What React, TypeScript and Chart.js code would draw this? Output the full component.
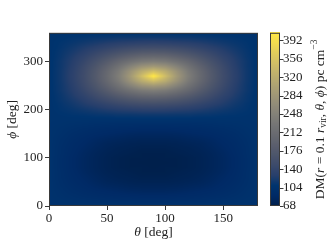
import { useEffect, useRef } from 'react';
import { Chart, registerables } from 'chart.js';
Chart.register(...registerables);

// theta grid (deg), columns
const thetaDeg = [0, 10, 20, 30, 40, 50, 60, 70, 80, 90, 100, 110, 120, 130, 140, 150, 160, 170, 180];
// phi grid (deg), rows
const phiDeg = [0, 10, 20, 30, 40, 50, 60, 70, 80, 90, 100, 110, 120, 130, 140, 150, 160, 170, 180,
  190, 200, 210, 220, 230, 240, 250, 260, 270, 280, 290, 300, 310, 320, 330, 340, 350, 360];

// DM values [pc cm^-3], one row per phi, one value per theta
const dmRows = [
  [105, 105, 105, 105, 105, 105, 105, 105, 105, 105, 105, 105, 105, 105, 105, 105, 105, 105, 105],
  [105, 104, 102, 101, 99, 98, 97, 97, 96, 96, 96, 97, 97, 98, 99, 101, 102, 104, 105],
  [105, 102, 99, 96, 94, 92, 91, 90, 89, 89, 89, 90, 91, 92, 94, 96, 99, 102, 105],
  [105, 101, 96, 93, 90, 88, 86, 84, 83, 83, 83, 84, 86, 88, 90, 93, 96, 101, 105],
  [105, 99, 94, 90, 86, 83, 81, 79, 78, 78, 78, 79, 81, 83, 86, 90, 94, 99, 105],
  [105, 98, 92, 88, 83, 79, 77, 75, 74, 74, 74, 75, 77, 79, 83, 88, 92, 98, 105],
  [105, 97, 91, 86, 81, 77, 74, 73, 71, 71, 71, 73, 74, 77, 81, 86, 91, 97, 105],
  [105, 97, 90, 84, 79, 75, 73, 71, 69, 69, 69, 71, 73, 75, 79, 84, 90, 97, 105],
  [105, 96, 89, 83, 78, 74, 71, 69, 69, 68, 69, 69, 71, 74, 78, 83, 89, 96, 105],
  [105, 96, 89, 83, 78, 74, 71, 69, 68, 68, 68, 69, 71, 74, 78, 83, 89, 96, 105],
  [105, 96, 89, 83, 78, 74, 71, 69, 69, 68, 69, 69, 71, 74, 78, 83, 89, 96, 105],
  [105, 97, 90, 84, 79, 75, 73, 71, 69, 69, 69, 71, 73, 75, 79, 84, 90, 97, 105],
  [105, 97, 91, 86, 81, 77, 74, 73, 71, 71, 71, 73, 74, 77, 81, 86, 91, 97, 105],
  [105, 98, 92, 88, 83, 79, 77, 75, 74, 74, 74, 75, 77, 79, 83, 88, 92, 98, 105],
  [105, 99, 94, 90, 86, 83, 81, 79, 78, 78, 78, 79, 81, 83, 86, 90, 94, 99, 105],
  [105, 101, 96, 93, 90, 88, 86, 84, 83, 83, 83, 84, 86, 88, 90, 93, 96, 101, 105],
  [105, 102, 99, 96, 94, 92, 91, 90, 89, 89, 89, 90, 91, 92, 94, 96, 99, 102, 105],
  [105, 104, 102, 101, 99, 98, 97, 97, 96, 96, 96, 97, 97, 98, 99, 101, 102, 104, 105],
  [105, 105, 105, 105, 105, 105, 105, 105, 105, 105, 105, 105, 105, 105, 105, 105, 105, 105, 105],
  [105, 107, 109, 110, 112, 113, 115, 115, 116, 116, 116, 115, 115, 113, 112, 110, 109, 107, 105],
  [105, 109, 112, 116, 120, 124, 127, 129, 131, 132, 131, 129, 127, 124, 120, 116, 112, 109, 105],
  [105, 110, 116, 123, 129, 136, 142, 147, 150, 151, 150, 147, 142, 136, 129, 123, 116, 110, 105],
  [105, 112, 120, 129, 140, 150, 160, 168, 174, 176, 174, 168, 160, 150, 140, 129, 120, 112, 105],
  [105, 113, 124, 136, 150, 165, 180, 193, 203, 206, 203, 193, 180, 165, 150, 136, 124, 113, 105],
  [105, 115, 127, 142, 160, 180, 202, 220, 235, 241, 235, 220, 202, 180, 160, 142, 127, 115, 105],
  [105, 115, 129, 147, 168, 193, 220, 250, 277, 288, 277, 250, 220, 193, 168, 147, 129, 115, 105],
  [105, 116, 131, 150, 174, 203, 235, 277, 318, 345, 318, 277, 235, 203, 174, 150, 131, 116, 105],
  [105, 116, 132, 151, 176, 206, 241, 288, 345, 405, 345, 288, 241, 206, 176, 151, 132, 116, 105],
  [105, 116, 131, 150, 174, 203, 235, 277, 318, 345, 318, 277, 235, 203, 174, 150, 131, 116, 105],
  [105, 115, 129, 147, 168, 193, 220, 250, 277, 288, 277, 250, 220, 193, 168, 147, 129, 115, 105],
  [105, 115, 127, 142, 160, 180, 202, 220, 235, 241, 235, 220, 202, 180, 160, 142, 127, 115, 105],
  [105, 113, 124, 136, 150, 165, 180, 193, 203, 206, 203, 193, 180, 165, 150, 136, 124, 113, 105],
  [105, 112, 120, 129, 140, 150, 160, 168, 174, 176, 174, 168, 160, 150, 140, 129, 120, 112, 105],
  [105, 110, 116, 123, 129, 136, 142, 147, 150, 151, 150, 147, 142, 136, 129, 123, 116, 110, 105],
  [105, 109, 112, 116, 120, 124, 127, 129, 131, 132, 131, 129, 127, 124, 120, 116, 112, 109, 105],
  [105, 107, 109, 110, 112, 113, 115, 115, 116, 116, 116, 115, 115, 113, 112, 110, 109, 107, 105],
  [105, 105, 105, 105, 105, 105, 105, 105, 105, 105, 105, 105, 105, 105, 105, 105, 105, 105, 105],
];

const thetaTicks = [0, 50, 100, 150];
const phiTicks = [0, 100, 200, 300];
const cbTicks = [68, 104, 140, 176, 212, 248, 284, 320, 356, 392];
const cbMin = 68;
const cbMax = 407;

const cividis = [
  [0, 32, 76], [0, 42, 102], [0, 52, 110], [39, 63, 108], [60, 74, 107], [76, 85, 107],
  [91, 95, 109], [104, 106, 112], [117, 117, 117], [131, 129, 120], [146, 140, 120],
  [161, 152, 118], [176, 165, 114], [192, 177, 109], [209, 191, 102], [225, 204, 92],
  [243, 219, 79], [255, 233, 69],
];

function cmapRGB(v: number): number[] {
  let t = (v - cbMin) / (cbMax - cbMin);
  t = Math.max(0, Math.min(1, t));
  const f = t * (cividis.length - 1);
  const i = Math.min(cividis.length - 2, Math.floor(f));
  const u = f - i;
  const a = cividis[i], b = cividis[i + 1];
  return [a[0] + (b[0] - a[0]) * u, a[1] + (b[1] - a[1]) * u, a[2] + (b[2] - a[2]) * u];
}
function cmap(v: number): string {
  const c = cmapRGB(v);
  return `rgb(${Math.round(c[0])},${Math.round(c[1])},${Math.round(c[2])})`;
}

// shaded (gouraud-style) lookup between the grid values
function fieldAt(t: number, p: number): number {
  const dt = thetaDeg[1] - thetaDeg[0];
  const dp = phiDeg[1] - phiDeg[0];
  let i = Math.floor((t - thetaDeg[0]) / dt);
  i = Math.max(0, Math.min(thetaDeg.length - 2, i));
  let j = Math.floor((p - phiDeg[0]) / dp);
  j = Math.max(0, Math.min(phiDeg.length - 2, j));
  const u = Math.max(0, Math.min(1, (t - thetaDeg[i]) / dt));
  const w = Math.max(0, Math.min(1, (p - phiDeg[j]) / dp));
  const v00 = dmRows[j][i], v10 = dmRows[j][i + 1], v01 = dmRows[j + 1][i], v11 = dmRows[j + 1][i + 1];
  return v00 * (1 - u) * (1 - w) + v10 * u * (1 - w) + v01 * (1 - u) * w + v11 * u * w;
}

const FAM = '"Liberation Serif", "DejaVu Serif", serif';
const FS = 13;
const TS = 13.5;
const TXT = '#222';

type Seg = { t: string; it?: boolean; sub?: boolean; sup?: boolean };

function drawRich(ctx: CanvasRenderingContext2D, segs: Seg[], cx: number, cy: number, rot: number, size: number) {
  const segFont = (s: Seg) => `${s.it ? 'italic ' : ''}${s.sub || s.sup ? size * 0.7 : size}px ${FAM}`;
  ctx.save();
  ctx.translate(cx, cy);
  ctx.rotate(rot);
  let w = 0;
  for (const s of segs) { ctx.font = segFont(s); w += ctx.measureText(s.t).width; }
  let x = -w / 2;
  ctx.fillStyle = TXT;
  ctx.textBaseline = 'middle';
  ctx.textAlign = 'left';
  for (const s of segs) {
    ctx.font = segFont(s);
    const dy = s.sub ? size * 0.25 : s.sup ? -size * 0.38 : 0;
    ctx.fillText(s.t, x, dy);
    x += ctx.measureText(s.t).width;
  }
  ctx.restore();
}

const heatPlugin = {
  id: 'heat',
  beforeDatasetsDraw(chart: any) {
    const { ctx, chartArea: a, scales } = chart;
    const xs = scales.x, ys = scales.y;
    const L = Math.round(a.left), T = Math.round(a.top);
    const W = Math.round(a.right) - L, H = Math.round(a.bottom) - T;
    const img = ctx.createImageData(W, H);
    for (let py = 0; py < H; py++) {
      const p = ys.getValueForPixel(T + py + 0.5);
      for (let px = 0; px < W; px++) {
        const t = xs.getValueForPixel(L + px + 0.5);
        const c = cmapRGB(fieldAt(t, p));
        const k = (py * W + px) * 4;
        img.data[k] = c[0]; img.data[k + 1] = c[1]; img.data[k + 2] = c[2]; img.data[k + 3] = 255;
      }
    }
    ctx.putImageData(img, L, T);
  },
  afterDraw(chart: any) {
    const { ctx, chartArea: a, scales } = chart;
    const cb = scales.cb;
    ctx.save();
    ctx.strokeStyle = '#3a3a3a';
    ctx.lineWidth = 1;
    ctx.strokeRect(a.left + 0.5, a.top + 0.5, a.right - a.left - 1, a.bottom - a.top - 1);
    const cbL = Math.round(a.right + 12);
    const cbW = 10;
    for (let py = Math.floor(a.top); py < Math.ceil(a.bottom); py++) {
      ctx.fillStyle = cmap(cb.getValueForPixel(py + 0.5));
      ctx.fillRect(cbL, py, cbW, 1);
    }
    ctx.strokeRect(cbL + 0.5, a.top + 0.5, cbW - 1, a.bottom - a.top - 1);
    ctx.beginPath();
    for (const v of cbTicks) {
      const py = Math.round(cb.getPixelForValue(v)) + 0.5;
      ctx.moveTo(cbL + cbW, py);
      ctx.lineTo(cbL + cbW + 3.5, py);
    }
    ctx.stroke();
    ctx.restore();
    drawRich(ctx, [{ t: 'θ', it: true }, { t: ' [deg]' }], (a.left + a.right) / 2, 232, 0, TS);
    drawRich(ctx, [{ t: 'ϕ', it: true }, { t: ' [deg]' }], 12, (a.top + a.bottom) / 2, -Math.PI / 2, TS);
    drawRich(ctx, [
      { t: 'DM(' }, { t: 'r', it: true }, { t: ' = 0.1 ' }, { t: 'r', it: true }, { t: 'vir', sub: true },
      { t: ', ' }, { t: 'θ', it: true }, { t: ', ' }, { t: 'ϕ', it: true }, { t: ') pc cm' }, { t: '−3', sup: true },
    ], 320, (a.top + a.bottom) / 2, -Math.PI / 2, TS);
  },
};

export default function App() {
  const ref = useRef<HTMLCanvasElement | null>(null);
  useEffect(() => {
    if (!ref.current) return;
    const tickFont = { family: FAM, size: FS };
    const chart = new Chart(ref.current, {
      type: 'scatter',
      data: { datasets: [{ data: [], pointRadius: 0 }] },
      options: {
        animation: false,
        responsive: false,
        devicePixelRatio: 1,
        layout: { padding: { top: 8, left: 0, right: 0, bottom: 0 } },
        plugins: { legend: { display: false }, tooltip: { enabled: false } },
        scales: {
          x: {
            type: 'linear', min: 0, max: 180,
            afterBuildTicks: (s: any) => { s.ticks = thetaTicks.map((v) => ({ value: v })); },
            afterFit: (s: any) => { s.height = 43; },
            ticks: { font: tickFont, color: TXT, padding: 1, maxRotation: 0 },
            grid: { display: true, drawOnChartArea: false, drawTicks: true, tickLength: 4, color: '#3a3a3a' },
            border: { display: false },
          },
          y: {
            type: 'linear', min: 0, max: 360,
            afterBuildTicks: (s: any) => { s.ticks = phiTicks.map((v) => ({ value: v })); },
            afterFit: (s: any) => { s.width = 49; },
            ticks: { font: tickFont, color: TXT, padding: 2 },
            grid: { display: true, drawOnChartArea: false, drawTicks: true, tickLength: 4, color: '#3a3a3a' },
            border: { display: false },
          },
          cb: {
            type: 'linear', position: 'right', min: cbMin, max: cbMax,
            afterBuildTicks: (s: any) => { s.ticks = cbTicks.map((v) => ({ value: v })); },
            afterFit: (s: any) => { s.width = 74; },
            ticks: { font: tickFont, color: TXT, padding: 25 },
            grid: { display: false, drawTicks: false, drawOnChartArea: false },
            border: { display: false },
          },
        },
      },
      plugins: [heatPlugin],
    } as any);
    return () => chart.destroy();
  }, []);
  return (
    <div style={{ position: 'fixed', left: 0, top: 0, width: 332, height: 249, background: '#fff' }}>
      <canvas ref={ref} width={332} height={249} style={{ display: 'block', width: 332, height: 249 }} />
    </div>
  );
}
